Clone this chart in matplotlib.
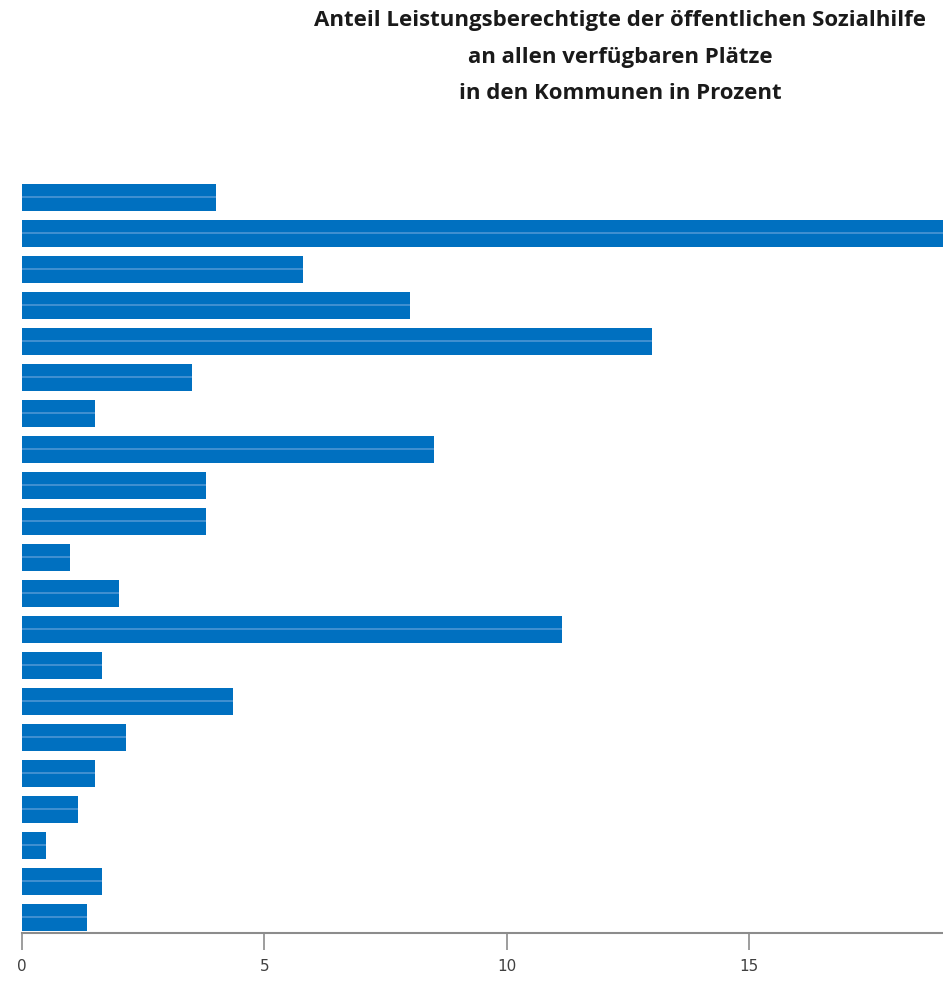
import numpy as np
import matplotlib.pyplot as plt

title_lines = [
    'Anteil Leistungsberechtigte der öffentlichen Sozialhilfe',
    'an allen verfügbaren Plätze',
    'in den Kommunen in Prozent',
]

# Anteil in Prozent, von oben nach unten
werte = [4.0, 19.6, 5.8, 8.0, 13.0, 3.5, 1.5, 8.5, 3.8, 3.8, 1.0,
         2.0, 11.15, 1.65, 4.35, 2.15, 1.5, 1.15, 0.5, 1.65, 1.35]
xticks = [0, 5, 10, 15]

blue = '#0070C0'

fig = plt.figure(figsize=(9.43, 9.81), dpi=100)
ax = fig.add_axes([22 / 943, 48 / 981, 1 - 22 / 943, 754 / 981])

y = np.arange(len(werte))
ax.barh(y, werte, height=0.75, color=blue)
# thin light stripe in the middle of each bar, as in the source image
ax.barh(y, werte, height=0.05, color='#3f8fd0')

ax.set_xlim(0, 19)
ax.set_ylim(20.444, -0.5)
ax.set_yticks([])
ax.set_xticks(xticks)
ax.tick_params(axis='x', length=12, width=1.2, color='#8c8c8c',
               labelsize=11, labelcolor='#404040', pad=7)

for s in ['top', 'right', 'left']:
    ax.spines[s].set_visible(False)
ax.spines['bottom'].set_color('#8c8c8c')
ax.spines['bottom'].set_linewidth(1.5)

fig.text(620 / 943, 1 - 10 / 981, '\n'.join(title_lines), ha='center', va='top',
         fontsize=16, fontweight='bold', family='Open Sans', color='#1a1a1a',
         linespacing=1.97)

fig.savefig('out.png', dpi=100)
